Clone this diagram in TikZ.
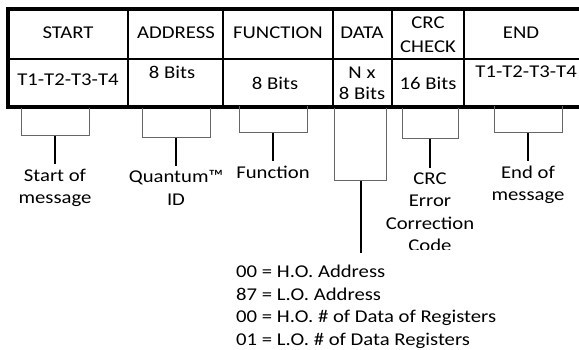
\documentclass[tikz,border=0pt]{standalone}
\usepackage{fontspec}
\setmainfont[FakeStretch=1.15]{Carlito}
\begin{document}
\begin{tikzpicture}[x=1pt,y=-1pt,
  txt/.style={font=\fontsize{18}{22.5}\selectfont, align=center, inner sep=0pt},
  lbl/.style={txt, anchor=north, inner xsep=0pt, inner ysep=4.5pt},
  brk/.style={draw=black!60, line width=1pt},
  stem/.style={draw=black, line width=1.4pt},
  grid/.style={draw=black, line width=1.3pt},
  border/.style={draw=black, line width=3.3pt}]
\useasboundingbox (0,0) rectangle (579,350);
\clip (0,0) rectangle (579,350);
% table frame
\draw[grid] (8,59) -- (584,59);
\foreach \x in {128,223,333,392,464} \draw[grid] (\x,9) -- (\x,107);
\draw[border] (8,9) rectangle (584,107);
% header row
\node[txt] (hstart) at (68,33) {START};
\node[txt] (haddr) at (176,33) {ADDRESS};
\node[txt] (hfunc) at (278,33) {FUNCTION};
\node[txt] (hdata) at (362,33) {DATA};
\node[txt, font=\fontsize{18}{24}\selectfont] (hcrc) at (428,35) {CRC\\CHECK};
\node[txt] (hend) at (521,33) {END};
% second row
\node[txt] (vstart) at (68,80) {T1-T2-T3-T4};
\node[txt] (vaddr) at (172,72) {8 Bits};
\node[txt] (vfunc) at (275,83) {8 Bits};
\node[txt, font=\fontsize{18}{21}\selectfont] (vdata) at (362,83.5) {N x\\8 Bits};
\node[txt] (vcrc) at (428,83) {16 Bits};
\node[txt, anchor=east] (vend) at (577,72) {T1-T2-T3-T4};
% brackets
\draw[brk] (21,108) -- (21,136) -- (89,136) -- (89,108);
\coordinate (b1) at (55,136);
\draw[brk] (142,108) -- (142,138) -- (210,138) -- (210,108);
\coordinate (b2) at (176,138);
\draw[brk] (239,106) -- (239,133) -- (307,133) -- (307,106);
\coordinate (b3) at (273,133);
\draw[brk] (334,108) -- (334,181) -- (386,181) -- (386,108);
\coordinate (b4) at (361,181);
\draw[brk] (402,108) -- (402,139) -- (458,139) -- (458,108);
\coordinate (b5) at (430,139);
\draw[brk] (494,106) -- (494,133) -- (562,133) -- (562,106);
\coordinate (b6) at (528,133);
% labels
\node[lbl] (l1) at (55,164) {Start of\\message};
\node[lbl] (l2) at (176,166) {Quantum™\\ID};
\node[lbl] (l3) at (273,161) {Function};
\begin{scope}
\clip (370,150) rectangle (490,250);
\node[lbl] (l5) at (430,168) {CRC\\Error\\Correction\\Code};
\end{scope}
\node[lbl] (l6) at (528,161) {End of\\message};
\node[txt, align=left, anchor=north west, inner xsep=0pt, inner ysep=4.5pt] (l4) at (236,260.5)
  {00 = H.O. Address\\87 = L.O. Address\\00 = H.O. \# of Data of Registers\\01 = L.O. \# of Data Registers};
% stems
\draw[stem] (b1) -- (l1.north);
\draw[stem] (b2) -- (l2.north);
\draw[stem] (b3) -- (l3.north);
\draw[stem, shorten >=7.5pt] (b4) -- (b4 |- l4.north);
\draw[stem] (b5) -- (l5.north);
\draw[stem] (b6) -- (l6.north);
\end{tikzpicture}
\end{document}
